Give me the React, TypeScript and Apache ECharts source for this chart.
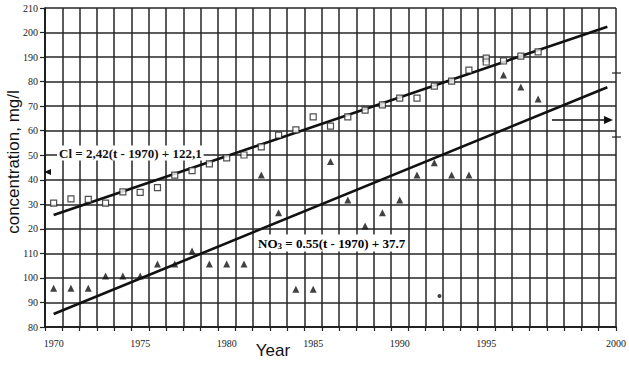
import React, { useEffect, useRef } from 'react';
import * as echarts from 'echarts';

// Observation years
const years = [
  1970, 1971, 1972, 1973, 1974, 1975, 1976, 1977, 1978, 1979,
  1980, 1981, 1982, 1983, 1984, 1985, 1986, 1987, 1988, 1989,
  1990, 1991, 1992, 1993, 1994, 1995, 1996, 1997, 1998,
];
// Cl (open squares), read in plotted axis units
const clValues = [
  130.5, 132.2, 132.0, 130.5, 135.1, 134.9, 136.8, 141.9, 143.7, 146.5,
  148.9, 150.1, 153.4, 158.2, 160.3, 165.6, 161.9, 165.6, 168.4, 170.5,
  173.3, 173.3, 178.2, 180.2, 184.7, 189.6, 188.4, 190.4, 192.1,
];
const clExtraYears = [1995];
const clExtraValues = [188.0];
// NO3 (filled triangles), read in plotted axis units
const no3Values: (number | null)[] = [
  95.8, 95.8, 95.8, 100.8, 100.8, 100.8, 105.7, 105.7, 111.0, 105.7,
  105.7, 105.7, 141.9, 126.6, 95.4, 95.4, 147.4, 131.8, 121.2, 126.6,
  131.8, 141.9, 146.9, 141.9, 141.9, null, 182.7, 177.8, 172.9,
];
const dotYears = [1992.3];
const dotValues = [92.6];
// Regression lines (end points)
const clTrendYears = [1970, 2002];
const clTrendValues = [125.6, 202.4];
const no3TrendYears = [1970, 2002];
const no3TrendValues = [85.3, 177.7];

// Axis ticks and their printed labels
const yTickValues = [80, 90, 100, 110, 120, 130, 140, 150, 160, 170, 180, 190, 200, 210];
const yTickLabels = ['80', '90', '100', '110', '20', '30', '40', '50', '60', '70', '80', '190', '200', '210'];
const xLabelYears = [1970, 1975, 1980, 1985, 1990, 1995];
const xEndLabel = '2000';

const clEquation = 'Cl = 2,42(t - 1970) + 122,1';
const no3Equation = ' = 0.55(t - 1970) + 37.7';

const SERIF = '"Liberation Serif", "Times New Roman", serif';
const SANS = '"Liberation Sans", Arial, sans-serif';

export default function App() {
  const ref = useRef<HTMLDivElement>(null);
  useEffect(() => {
    const chart = echarts.init(ref.current!, null, { renderer: 'svg' });
    const xMin = 1969.5;
    const xMax = 2002.5;
    const gridLine = { color: '#262626', width: 1.5 };
    const option: any = {
      animation: false,
      backgroundColor: '#fff',
      grid: { left: 45, right: 13, top: 8, bottom: 42, containLabel: false },
      xAxis: [
        {
          type: 'value',
          min: xMin,
          max: xMax,
          interval: 1,
          axisLine: { show: true, lineStyle: { color: '#111', width: 1.6 } },
          axisTick: { show: true, length: 4, lineStyle: { color: '#222', width: 1.2 } },
          axisLabel: { show: false },
          splitLine: { show: true, lineStyle: gridLine },
        },
        {
          type: 'value',
          position: 'bottom',
          min: xMin,
          max: xMax,
          interval: 0.5,
          axisLine: { show: false },
          axisTick: { show: false },
          splitLine: { show: false },
          axisLabel: {
            show: true,
            margin: 11,
            fontFamily: SERIF,
            fontSize: 10,
            color: '#222',
            showMinLabel: true,
            showMaxLabel: true,
            formatter: (v: number) => {
              if (Math.abs(v - xMax) < 1e-6) return xEndLabel;
              return xLabelYears.indexOf(v) >= 0 ? String(v) : '';
            },
          },
        },
      ],
      yAxis: {
        type: 'value',
        min: yTickValues[0],
        max: yTickValues[yTickValues.length - 1],
        interval: 10,
        axisLine: { show: true, lineStyle: { color: '#111', width: 1.6 } },
        axisTick: { show: true, length: 5, lineStyle: { color: '#222', width: 1.2 } },
        axisLabel: {
          margin: 7,
          fontFamily: SERIF,
          fontSize: 10,
          color: '#222',
          formatter: (v: number) => yTickLabels[yTickValues.indexOf(v)] ?? '',
        },
        splitLine: { show: true, lineStyle: gridLine },
      },
      series: [
        {
          type: 'line',
          xAxisIndex: 0,
          data: clTrendYears.map((y, i) => [y, clTrendValues[i]]),
          symbol: 'none',
          lineStyle: { color: '#111', width: 2.6 },
          z: 3,
        },
        {
          type: 'line',
          xAxisIndex: 0,
          data: no3TrendYears.map((y, i) => [y, no3TrendValues[i]]),
          symbol: 'none',
          lineStyle: { color: '#111', width: 2.6 },
          z: 3,
        },
        {
          type: 'scatter',
          xAxisIndex: 0,
          data: years.map((y, i) => [y, clValues[i]]),
          symbol: 'rect',
          symbolSize: 6,
          itemStyle: { color: '#fff', borderColor: '#222', borderWidth: 1.2 },
          z: 4,
        },
        {
          type: 'scatter',
          xAxisIndex: 0,
          data: clExtraYears.map((y, i) => [y, clExtraValues[i]]),
          symbol: 'rect',
          symbolSize: 6,
          itemStyle: { color: '#fff', borderColor: '#222', borderWidth: 1.2 },
          z: 4,
        },
        {
          type: 'scatter',
          xAxisIndex: 0,
          data: years
            .map((y, i) => [y, no3Values[i]])
            .filter((d) => d[1] !== null),
          symbol: 'triangle',
          symbolSize: 7,
          itemStyle: { color: '#111' },
          z: 4,
        },
        {
          type: 'scatter',
          xAxisIndex: 0,
          data: dotYears.map((y, i) => [y, dotValues[i]]),
          symbol: 'circle',
          symbolSize: 4,
          itemStyle: { color: '#111' },
          z: 4,
        },
      ],
      graphic: [
        {
          type: 'text',
          x: 13,
          y: 162,
          rotation: Math.PI / 2,
          style: {
            text: 'concentration, mg/l',
            font: `17px ${SANS}`,
            fill: '#111',
            textAlign: 'center',
            textVerticalAlign: 'middle',
          },
        },
        {
          type: 'text',
          x: 273,
          y: 350,
          style: {
            text: 'Year',
            font: `17px ${SANS}`,
            fill: '#111',
            textAlign: 'center',
            textVerticalAlign: 'middle',
          },
        },
        {
          type: 'text',
          x: 57,
          y: 153,
          z: 10,
          style: {
            text: clEquation,
            font: `bold 13px ${SERIF}`,
            fill: '#111',
            textAlign: 'left',
            textVerticalAlign: 'middle',
            backgroundColor: '#fff',
            padding: [1, 2],
          },
        },
        {
          type: 'text',
          x: 256,
          y: 243,
          z: 10,
          style: {
            text: '{a|NO}{s|3}{a|' + no3Equation + '}',
            textAlign: 'left',
            textVerticalAlign: 'middle',
            backgroundColor: '#fff',
            padding: [1, 2],
            rich: {
              a: { fontFamily: SERIF, fontWeight: 'bold', fontSize: 13, color: '#111' },
              s: { fontFamily: SERIF, fontWeight: 'bold', fontSize: 9, color: '#111', padding: [6, 0, 0, 0] },
            },
          },
        },
        {
          type: 'line',
          shape: { x1: 552, y1: 120, x2: 607, y2: 120 },
          style: { stroke: '#111', lineWidth: 1.6 },
        },
        {
          type: 'polygon',
          shape: { points: [[604, 116], [613, 120], [604, 124]] },
          style: { fill: '#111' },
        },
        {
          type: 'line',
          shape: { x1: 612, y1: 73, x2: 621, y2: 73 },
          style: { stroke: '#222', lineWidth: 1.2 },
        },
        {
          type: 'line',
          shape: { x1: 612, y1: 137, x2: 621, y2: 137 },
          style: { stroke: '#222', lineWidth: 1.2 },
        },
        {
          type: 'polygon',
          shape: { points: [[44, 172], [51, 169], [51, 175]] },
          style: { fill: '#111' },
        },
      ],
    };
    chart.setOption(option);
    return () => chart.dispose();
  }, []);
  return (
    <div
      ref={ref}
      style={{ position: 'absolute', left: 0, top: 0, width: 629, height: 369, background: '#fff' }}
    />
  );
}
